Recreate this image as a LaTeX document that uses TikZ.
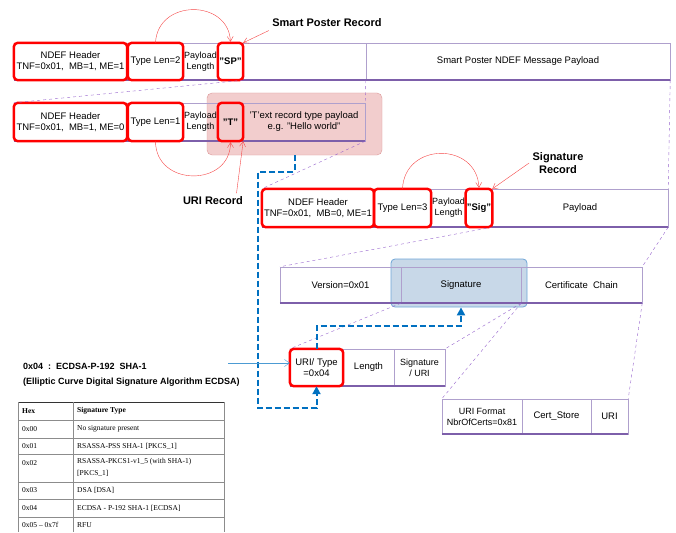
\documentclass[tikz,border=0pt]{standalone}
\usepackage{fontspec}
\setmainfont{Liberation Sans}
\newfontfamily\tablefont{Liberation Serif}
\usetikzlibrary{arrows.meta,calc}

\definecolor{cellline}{RGB}{175,160,205}
\definecolor{ruleviolet}{RGB}{125,95,170}
\definecolor{zoomviolet}{RGB}{150,100,205}
\definecolor{markred}{RGB}{255,0,0}
\definecolor{arcred}{RGB}{245,70,70}
\definecolor{pathblue}{RGB}{0,112,192}
\definecolor{pinkfill}{RGB}{242,205,205}
\definecolor{pinkline}{RGB}{220,150,150}
\definecolor{bluefill}{RGB}{200,216,232}
\definecolor{blueline}{RGB}{110,165,215}
\definecolor{tablegray}{RGB}{140,140,140}

\begin{document}
\begin{tikzpicture}[
            x=1pt, y=-1pt,
            cell/.style={draw=cellline, thin, rectangle, align=center, inner sep=1pt,
                font=\fontsize{9.5}{11}\selectfont},
            narrow/.style={font=\fontsize{9}{11}\selectfont},
            redmark/.style={draw=markred, line width=2.5pt, rounded corners=4pt},
            baserule/.style={draw=ruleviolet, line width=2pt},
            zoomline/.style={draw=zoomviolet, dashed, thin},
            redarc/.style={draw=arcred, thin, -{Straight Barb[length=5pt,width=6pt]}, shorten >=1pt},
            redpointer/.style={draw=arcred, thin, -{Straight Barb[length=5pt,width=6pt]}},
            bluepath/.style={draw=pathblue, line width=2pt, dash pattern=on 6pt off 3pt,
                -{Triangle[length=8pt,width=8pt]}},
            pointer/.style={draw=pathblue!70, thin, -{Straight Barb[length=5pt,width=7pt]}},
            pinkbox/.style={draw=pinkline, fill=pinkfill, rounded corners=5pt},
            bluebox/.style={draw=blueline, thick, fill=bluefill, rounded corners=4pt},
            lbl/.style={font=\bfseries\fontsize{11}{13}\selectfont, align=center},
            tabletext/.style={font=\tablefont\fontsize{7.5}{12.5}\selectfont, anchor=west, inner sep=0pt, align=left}
        ]
        \useasboundingbox (0,0) rectangle (676,532);

        % highlights (behind the cells)
        \node[pinkbox, minimum width=175, minimum height=62] (tpink) at (294.5,124) {};
        \node[bluebox, minimum width=136, minimum height=48] (sigblue) at (459,283) {};

        % nodes: smart poster record
        \node[cell, minimum width=113, minimum height=37] (hdrA) at (70.5,61.5) {NDEF Header\\TNF=0x01,\ \ MB=1, ME=1};
        \node[cell, minimum width=55, minimum height=37] (tlA) at (155.5,61.5) {Type Len=2};
        \node[cell, narrow, minimum width=35, minimum height=37] (plA) at (200.5,61.5) {Payload\\Length};
        \node[cell, minimum width=25, minimum height=37] (spA) at (230.5,61.5) {\bfseries "SP"};
        \node[cell, minimum width=123, minimum height=37] (restA) at (304.5,61.5) {};
        \node[cell, minimum width=304, minimum height=37] (sppA) at (518,61.5) {Smart Poster NDEF Message Payload};

        % nodes: uri record
        \node[cell, minimum width=113, minimum height=38] (hdrB) at (70.5,122) {NDEF Header\\TNF=0x01,\ \ MB=1, ME=0};
        \node[cell, minimum width=55, minimum height=38] (tlB) at (155.5,122) {Type Len=1};
        \node[cell, narrow, minimum width=35, minimum height=38] (plB) at (200.5,122) {Payload\\Length};
        \node[cell, minimum width=25, minimum height=38] (tB) at (230.5,122) {\bfseries "T"};
        \node[cell, minimum width=122, minimum height=38] (txtB) at (304,122) {'T'ext record type payload\\e.g. "Hello world"};

        % nodes: signature record
        \node[cell, minimum width=112, minimum height=38] (hdrC) at (318,208) {NDEF Header\\TNF=0x01,\ \ MB=0, ME=1};
        \node[cell, minimum width=57, minimum height=38] (tlC) at (402.5,208) {Type Len=3};
        \node[cell, narrow, minimum width=35, minimum height=38] (plC) at (448.5,208) {Payload\\Length};
        \node[cell, minimum width=26, minimum height=38] (sigC) at (479,208) {\bfseries "Sig"};
        \node[cell, minimum width=176, minimum height=38] (payC) at (580,208) {Payload};

        % nodes: signature payload
        \node[cell, minimum width=121, minimum height=36] (verD) at (340.5,285) {Version=0x01};
        \node[cell, minimum width=120, minimum height=36] (sgnD) at (461,285) {Signature};
        \node[cell, minimum width=121, minimum height=36] (certD) at (581.5,285) {Certificate\ \ Chain};

        \node[cell, minimum width=53, minimum height=37] (uriE) at (316.5,367.5) {URI/ Type\\=0x04};
        \node[cell, minimum width=51, minimum height=37] (lenE) at (368.5,367.5) {Length};
        \node[cell, narrow, minimum width=51, minimum height=37] (suE) at (419.5,367.5) {Signature\\/ URI};

        \node[cell, narrow, minimum width=80, minimum height=35] (fmtF) at (482,416.5) {URI Format\\NbrOfCerts=0x81};
        \node[cell, minimum width=69, minimum height=35] (csF) at (556.5,416.5) {Cert\_Store};
        \node[cell, minimum width=37, minimum height=35] (uF) at (609.5,416.5) {URI};

        % bottom rules
        \draw[baserule] (hdrA.south west) -- (sppA.south east);
        \draw[baserule] (hdrB.south west) -- (txtB.south east);
        \draw[baserule] (hdrC.south west) -- (payC.south east);
        \draw[baserule] (verD.south west) -- (certD.south east);
        \draw[baserule] (uriE.south west) -- (suE.south east);
        \draw[baserule] (fmtF.south west) -- (uF.south east);

        \foreach \n in {hdrA,tlA,spA,hdrB,tlB,tB,hdrC,tlC,sigC,uriE}
            \draw[redmark] (\n.north west) rectangle (\n.south east);

        % zoom lines
        \draw[zoomline] (spA.south east) -- (hdrB.north west);
        \draw[zoomline] (sppA.south west) -- (txtB.north east);
        \draw[zoomline] (txtB.south east) -- (hdrC.north west);
        \draw[zoomline] (sppA.south east) -- (payC.north east);
        \draw[zoomline] (sigC.south east) -- (verD.north west);
        \draw[zoomline] (payC.south east) -- (certD.north east);
        \draw[zoomline] (sgnD.south west) -- (uriE.north west);
        \draw[zoomline] (sgnD.south east) -- (suE.north east);
        \draw[zoomline] (sgnD.south east) -- (fmtF.north west);
        \draw[zoomline] (certD.south east) -- (uF.north east);

        % labels
        \node[lbl] (spLabel) at (327,23) {Smart Poster Record};
        \node[lbl] (uriLabel) at (213,201) {URI Record};
        \node[lbl] (sigLabel) at (558,163) {Signature\\Record};

        % arrows
        \draw[redarc] (tlA.north) .. controls +(2,-44) and +(-2,-44) .. (spA.north);
        \draw[redarc] (tlB.south) .. controls +(0,46) and +(0,46) .. (tB.south);
        \draw[redarc] (tlC.north) .. controls +(2,-47) and +(-2,-47) .. (sigC.north);
        \draw[redpointer] (spLabel.south west) -- (spA.north east);
        \draw[redpointer] ([xshift=-10pt]uriLabel.north east) -- (tB.south east);
        \draw[redpointer] (sigLabel.west) -- (sigC.north east);

        \coordinate (turnA) at (258,172);
        \coordinate (turnB) at (258,408);
        \coordinate (turnC) at (461,326);
        \draw[bluepath] (tpink.south) |- (turnA) -- (turnB) -| (uriE.south);
        \draw[bluepath] (uriE.north) |- (turnC) -- (turnC |- sigblue.south);

        % ecdsa note
        \node[anchor=west, align=left, inner sep=0pt, font=\bfseries\fontsize{9}{15}\selectfont] (ecdsaNote) at (23,374.5)
            {0x04\ \ :\ \ ECDSA-P-192\ \ SHA-1\\(Elliptic Curve Digital Signature Algorithm ECDSA)};
        \coordinate (noteTail) at (228,363);
        \draw[pointer] (noteTail) -- (noteTail -| uriE.west);

        % signature type table
        \draw[draw=black!80, line width=1pt] (18,402) -- (224,402);
        \foreach \y in {420,438,454,482,499,517}
            \draw[draw=tablegray, thin] (18,\y) -- (224,\y);
        \foreach \x in {18,73,224}
            \draw[draw=tablegray, thin] (\x,402) -- (\x,532);

        \node[tabletext] (hexHead) at (22,411) {\bfseries Hex};
        \node[tabletext] (typeHead) at (77,411) {\bfseries Signature Type};
        \node[tabletext] (hex0) at (22,429) {0x00};
        \node[tabletext] (type0) at (77,429) {No signature present};
        \node[tabletext] (hex1) at (22,446) {0x01};
        \node[tabletext] (type1) at (77,446) {RSASSA-PSS SHA-1 [PKCS\_1]};
        \node[tabletext] (hex2) at (22,463) {0x02};
        \node[tabletext, anchor=north west] (type2) at (77,458) {RSASSA-PKCS1-v1\_5 (with SHA-1)\\{}[PKCS\_1]};
        \node[tabletext] (hex3) at (22,490.5) {0x03};
        \node[tabletext] (type3) at (77,490.5) {DSA [DSA]};
        \node[tabletext] (hex4) at (22,508) {0x04};
        \node[tabletext] (type4) at (77,508) {ECDSA - P-192 SHA-1 [ECDSA]};
        \node[tabletext] (hex5) at (22,525) {0x05 – 0x7f};
        \node[tabletext] (type5) at (77,525) {RFU};

    \end{tikzpicture}
\end{document}
